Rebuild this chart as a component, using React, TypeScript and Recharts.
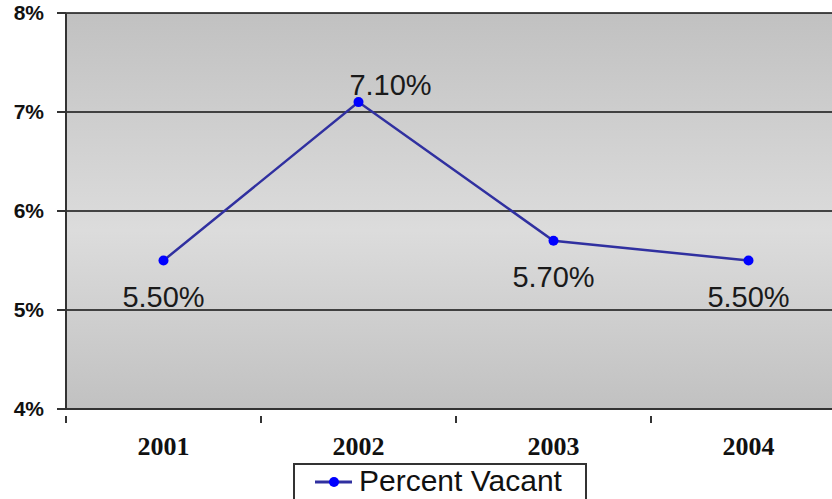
import React from 'react';
import { LineChart, Line, XAxis, YAxis, CartesianGrid, LabelList, Legend } from 'recharts';

const years = ['2001', '2002', '2003', '2004'];
const percentVacant = [5.5, 7.1, 5.7, 5.5];
const yTicks = [4, 5, 6, 7, 8];

const data = years.map((year, i) => ({ year, vacant: percentVacant[i] }));

const BAND = 195; // width of one category band
const maxValue = Math.max(...percentVacant);

const XTick = (props: any) => {
    const { x, y, payload } = props;
    return (
        <g>
            <line x1={x - BAND / 2} x2={x - BAND / 2} y1={y - 1} y2={y + 6} stroke="#333" strokeWidth={2} />
            <text x={x} y={y + 38} textAnchor="middle" fontFamily="'Liberation Serif', serif" fontWeight="bold" fontSize={26} fill="#111">
                {payload.value}
            </text>
        </g>
    );
};

const PointLabel = (props: any) => {
    const { x, y, value } = props;
    const top = value === maxValue;
    return (
        <text
            x={top ? x + 32 : x}
            y={top ? y - 18 : y + 36}
            dy="0.36em"
            textAnchor="middle"
            fontFamily="Arial, 'Liberation Sans', sans-serif"
            fontSize={29}
            fill="#1a1a1a"
        >
            {`${value.toFixed(2)}%`}
        </text>
    );
};

const LegendBox = () => (
    <div style={{ border: '2px solid #333', height: 48, boxSizing: 'border-box', background: '#fff', display: 'flex', alignItems: 'flex-start' }}>
        <svg width={64} height={36} style={{ display: 'block' }}>
            <line x1={20} x2={57} y1={17} y2={17} stroke="#3030a0" strokeWidth={3} />
            <circle cx={39} cy={17} r={5} fill="#0000ff" />
        </svg>
        <span style={{ fontFamily: "Arial, 'Liberation Sans', sans-serif", fontSize: 30, lineHeight: '32px', color: '#111', whiteSpace: 'nowrap' }}>
            Percent Vacant
        </span>
    </div>
);

export default function App() {
    return (
        <div style={{ position: 'absolute', left: 0, top: 0, width: 832, height: 499, overflow: 'hidden', background: '#fff' }}>
            <LineChart width={846} height={499} data={data} margin={{ top: 13, right: 0, bottom: 0, left: 0 }}>
                <defs>
                    <linearGradient id="plotBg" x1="0" y1="0" x2="0" y2="1">
                        <stop offset="0%" stopColor="#c1c1c1" />
                        <stop offset="55%" stopColor="#dcdcdc" />
                        <stop offset="100%" stopColor="#c1c1c1" />
                    </linearGradient>
                </defs>
                <CartesianGrid vertical={false} stroke="#111" strokeWidth={1.5} fill="url(#plotBg)" fillOpacity={1} />
                <XAxis
                    dataKey="year"
                    scale="band"
                    height={90}
                    axisLine={{ stroke: '#333', strokeWidth: 2 }}
                    tickLine={false}
                    tick={<XTick />}
                    interval={0}
                />
                <YAxis
                    width={66}
                    domain={[4, 8]}
                    ticks={yTicks}
                    tickFormatter={(v) => `${v}%`}
                    axisLine={{ stroke: '#333', strokeWidth: 2 }}
                    tickLine={{ stroke: '#333', strokeWidth: 2 }}
                    tickSize={9}
                    tickMargin={13}
                    tick={{ fontFamily: "Arial, 'Liberation Sans', sans-serif", fontWeight: 'bold', fontSize: 21, fill: '#111' }}
                />
                <Line
                    dataKey="vacant"
                    name="Percent Vacant"
                    stroke="#3030a0"
                    strokeWidth={2.5}
                    dot={{ r: 5, fill: '#0000ff', stroke: 'none' }}
                    activeDot={false}
                    isAnimationActive={false}
                >
                    <LabelList dataKey="vacant" content={<PointLabel />} />
                </Line>
                <Legend
                    layout="horizontal"
                    verticalAlign="middle"
                    align="center"
                    content={<LegendBox />}
                    wrapperStyle={{ left: 293, top: 463, width: 294, height: 48 }}
                />
            </LineChart>
        </div>
    );
}
